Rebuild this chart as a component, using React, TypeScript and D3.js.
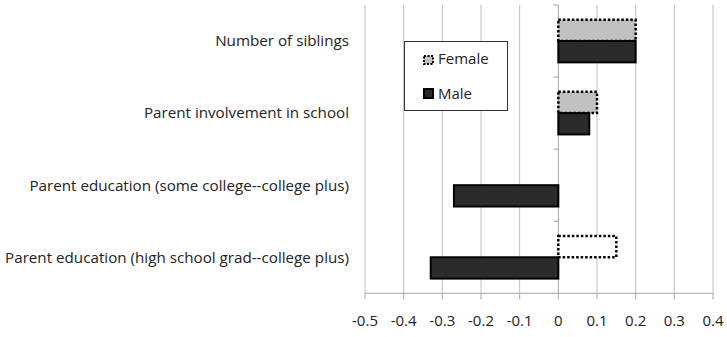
import React from "react";
import * as d3 from "d3";

const categories = [
  "Number of siblings",
  "Parent involvement in school",
  "Parent education (some college--college plus)",
  "Parent education (high school grad--college plus)",
];
const series = ["Female", "Male"];
const femaleValues = [0.2, 0.1, 0, 0.15];
const maleValues = [0.2, 0.08, -0.27, -0.33];
const femaleFilled = [true, true, true, false];
const xTicks = [-0.5, -0.4, -0.3, -0.2, -0.1, 0, 0.1, 0.2, 0.3, 0.4];

const W = 727;
const H = 337;
const FONT = "'Open Sans', 'Noto Sans', sans-serif";

export default function App() {
  const x = d3.scaleLinear().domain([-0.5, 0.4]).range([365, 713]);
  const y = d3.scaleBand<string>().domain(categories).range([5, 293.3]).padding(0);
  const sub = d3
    .scaleBand<string>()
    .domain(series)
    .range([0, y.bandwidth()])
    .paddingInner(0)
    .paddingOuter(0.69);
  const fmt = (v: number) => (v === 0 ? "0" : String(v));
  const x0 = x(0);
  const top = 5;
  const bottom = 293.3;

  const bars: React.ReactNode[] = [];
  categories.forEach((c, i) => {
    const fv = femaleValues[i];
    const mv = maleValues[i];
    const yb = y(c)!;
    if (fv !== 0) {
      bars.push(
        <rect
          key={"f" + i}
          x={Math.min(x(fv), x0)}
          y={yb + sub("Female")!}
          width={Math.abs(x(fv) - x0)}
          height={sub.bandwidth()}
          fill={femaleFilled[i] ? "#c0c0c0" : "#ffffff"}
          stroke="#000"
          strokeWidth={2.5}
          strokeDasharray="2.5,2"
        />
      );
    }
    if (mv !== 0) {
      bars.push(
        <rect
          key={"m" + i}
          x={Math.min(x(mv), x0)}
          y={yb + sub("Male")!}
          width={Math.abs(x(mv) - x0)}
          height={sub.bandwidth()}
          fill="#2b2b2b"
          stroke="#000"
          strokeWidth={2}
        />
      );
    }
  });

  return (
    <svg
      width={W}
      height={H}
      style={{ position: "absolute", left: 0, top: 0, background: "#fff" }}
      fontFamily={FONT}
    >
      {/* gridlines */}
      {xTicks.map((t) =>
        t === 0 ? null : (
          <line key={"g" + t} x1={x(t)} x2={x(t)} y1={top} y2={bottom} stroke="#bfbfbf" strokeWidth={1} />
        )
      )}
      {/* bottom axis */}
      <line x1={x(-0.5)} x2={x(0.4)} y1={bottom} y2={bottom} stroke="#a6a6a6" strokeWidth={1} />
      {xTicks.map((t) => (
        <g key={"t" + t}>
          <line x1={x(t)} x2={x(t)} y1={bottom} y2={bottom + 6} stroke="#a6a6a6" strokeWidth={1} />
          <text x={x(t)} y={326} textAnchor="middle" fontSize={15} fill="#222">
            {fmt(t)}
          </text>
        </g>
      ))}
      {/* vertical category axis at 0 */}
      <line x1={x0} x2={x0} y1={top} y2={bottom} stroke="#a6a6a6" strokeWidth={1} />
      {categories.map((c) => (
        <line key={"ct" + c} x1={x0 - 5} x2={x0} y1={y(c)!} y2={y(c)!} stroke="#a6a6a6" strokeWidth={1} />
      ))}
      {bars}
      {/* category labels */}
      {categories.map((c) => (
        <text
          key={"l" + c}
          x={349}
          y={y(c)! + y.bandwidth() / 2}
          dy="0.35em"
          textAnchor="end"
          fontSize={15.2}
          fill="#222"
        >
          {c}
        </text>
      ))}
      {/* legend */}
      <rect x={404.5} y={41.5} width={103} height={69} fill="#fff" stroke="#333" strokeWidth={1} />
      <rect x={424} y={56} width={9} height={8} fill="#c0c0c0" stroke="#000" strokeWidth={2} strokeDasharray="2,1.5" />
      <text x={438} y={64} fontSize={15} fill="#222">
        Female
      </text>
      <rect x={424} y={89} width={9} height={9} fill="#2b2b2b" stroke="#000" strokeWidth={2} />
      <text x={438} y={99} fontSize={15} fill="#222">
        Male
      </text>
    </svg>
  );
}
